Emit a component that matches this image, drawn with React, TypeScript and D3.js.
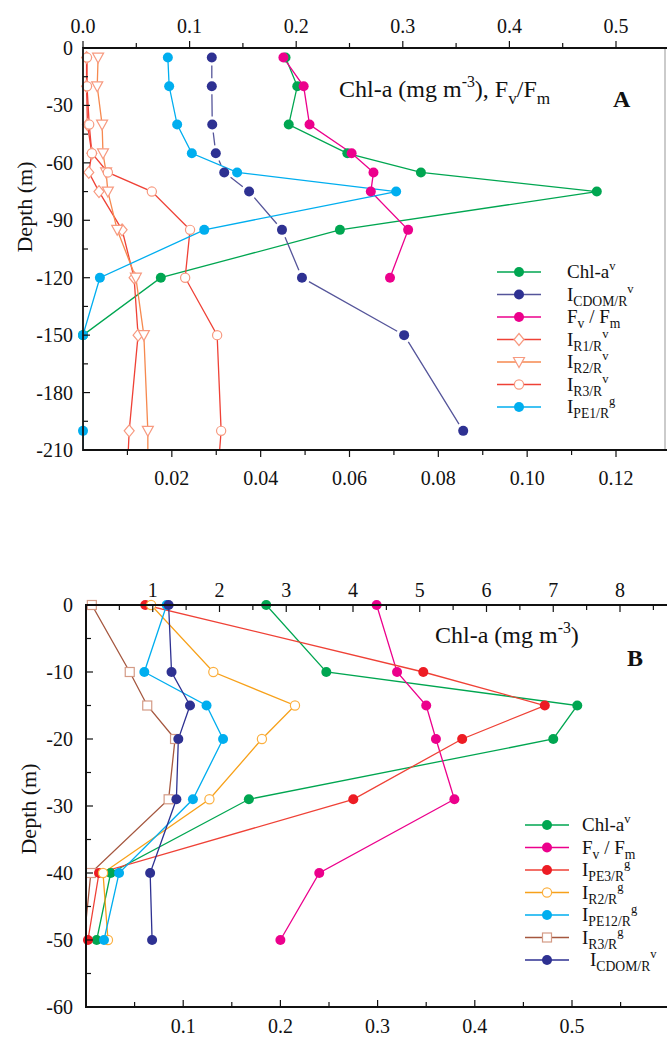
import React from 'react';
import * as d3 from 'd3';

const FONT = '"Liberation Serif", "Times New Roman", serif';

// ---------- Panel A data (depth in m, positive down) ----------
const depthsA = [5, 20, 40, 55, 65, 75, 95, 120, 150, 200, 215];
// top axis (Chl-a mg m-3, Fv/Fm)
const chlA = [0.19, 0.201, 0.193, 0.248, 0.317, 0.482, 0.241, 0.073, 0, null, null];
const fvfmA = [0.188, 0.207, 0.2125, 0.252, 0.2725, 0.27, 0.305, 0.288, null, null, null];
// bottom axis (indices)
const cdomA = [0.029, 0.029, 0.0291, 0.0299, 0.0318, 0.0374, 0.0448, 0.0493, 0.0723, 0.0856, null];
const r1A = [0.0008, 0.0008, 0.001, 0.002, 0.0013, 0.0036, 0.0088, 0.0115, 0.0124, 0.0104, 0.0101];
const r2A = [0.0034, 0.0032, 0.0043, 0.0045, 0.0052, 0.0056, 0.0077, 0.0119, 0.0137, 0.0146, 0.0146];
const r3A = [0.0009, 0.0009, 0.0014, 0.002, 0.0056, 0.0155, 0.0241, 0.023, 0.0302, 0.0311, 0.0306];
const pe1A = [0.0191, 0.0194, 0.0212, 0.0245, 0.0347, 0.0705, 0.0273, 0.0038, 0, 0, 0];

const topTicksA = [0, 0.1, 0.2, 0.3, 0.4, 0.5];
const bottomTicksA = [0.02, 0.04, 0.06, 0.08, 0.1, 0.12];
const depthTicksA = [0, 30, 60, 90, 120, 150, 180, 210];

// ---------- Panel B data ----------
const depthsB = [0, 10, 15, 20, 29, 40, 50];
// top axis (Chl-a mg m-3)
const chlB = [2.7, 3.6, 7.36, 7.0, 2.44, 0.37, 0.16];
// bottom axis
const fvfmB = [0.299, 0.32, 0.35, 0.36, 0.379, 0.24, 0.2];
const pe3B = [0.061, 0.347, 0.472, 0.387, 0.275, 0.0134, 0.002];
const r2B = [0.067, 0.131, 0.215, 0.181, 0.127, 0.0175, 0.0226];
const pe12B = [0.083, 0.06, 0.124, 0.141, 0.11, 0.034, 0.0185];
const r3B = [0.006, 0.045, 0.063, 0.0916, 0.085, 0.005, -0.002];
const cdomB = [0.085, 0.088, 0.107, 0.095, 0.093, 0.066, 0.068];

const topTicksB = [1, 2, 3, 4, 5, 6, 7, 8];
const bottomTicksB = [0.1, 0.2, 0.3, 0.4, 0.5];
const depthTicksB = [0, 10, 20, 30, 40, 50, 60];

// ---------- colours ----------
const GREEN = '#00a651';
const NAVY = '#2e3192';
const PINK = '#ec008c';
const RED = '#ef4136';
const SALMON = '#f79a80';
const ORANGE_A = '#f6894f';
const CYAN = '#00aeef';
const ORANGE_B = '#f7a11a';
const BROWN = '#a5573f';
const BROWN_LIGHT = '#d49b86';

type Part = [string, 'n' | 'sub' | 'sup'];

function Rich({ parts, x, y, size, anchor }: { parts: Part[]; x: number; y: number; size: number; anchor?: string }) {
  const off = { n: 0, sub: size * 0.28, sup: -size * 0.42 };
  let cur = 0;
  return (
    <text x={x} y={y} fontFamily={FONT} fontSize={size} fill="#111" textAnchor={anchor || 'start'}>
      {parts.map((p, i) => {
        const target = off[p[1]];
        const dy = target - cur;
        cur = target;
        const fs = p[1] === 'n' ? size : p[1] === 'sub' ? size * 0.72 : size * 0.66;
        return (
          <tspan key={i} dy={dy} fontSize={fs}>
            {p[0]}
          </tspan>
        );
      })}
    </text>
  );
}

function Marker({ kind, x, y, color }: { kind: string; x: number; y: number; color: string }) {
  if (kind === 'dot') return <circle cx={x} cy={y} r={5} fill={color} />;
  if (kind === 'circle')
    return <circle cx={x} cy={y} r={4.6} fill="#fff" stroke={color} strokeWidth={1.2} />;
  if (kind === 'diamond')
    return (
      <path d={`M${x},${y - 6}L${x + 5},${y}L${x},${y + 6}L${x - 5},${y}Z`} fill="#fff" stroke={color} strokeWidth={1.2} />
    );
  if (kind === 'triangle')
    return (
      <path d={`M${x - 5.5},${y - 4.5}L${x + 5.5},${y - 4.5}L${x},${y + 5.5}Z`} fill="#fff" stroke={color} strokeWidth={1.2} />
    );
  if (kind === 'square')
    return <rect x={x - 4.5} y={y - 4.5} width={9} height={9} fill="#fff" stroke={color} strokeWidth={1.2} />;
  return null;
}

type Series = {
  label: Part[];
  values: (number | null)[];
  axis: 'top' | 'bottom';
  line: string;
  marker: string;
  color: string;
  gapped?: boolean;
};

const seriesA: Series[] = [
  { label: [['Chl-a', 'n'], ['v', 'sup']], values: chlA, axis: 'top', line: GREEN, marker: 'dot', color: GREEN },
  { label: [['I', 'n'], ['CDOM/R', 'sub'], ['v', 'sup']], values: cdomA, axis: 'bottom', line: '#55559a', marker: 'dot', color: NAVY, gapped: true },
  { label: [['F', 'n'], ['v', 'sub'], [' / F', 'n'], ['m', 'sub']], values: fvfmA, axis: 'top', line: PINK, marker: 'dot', color: PINK },
  { label: [['I', 'n'], ['R1/R', 'sub'], ['v', 'sup']], values: r1A, axis: 'bottom', line: RED, marker: 'diamond', color: SALMON },
  { label: [['I', 'n'], ['R2/R', 'sub'], ['v', 'sup']], values: r2A, axis: 'bottom', line: ORANGE_A, marker: 'triangle', color: SALMON },
  { label: [['I', 'n'], ['R3/R', 'sub'], ['v', 'sup']], values: r3A, axis: 'bottom', line: RED, marker: 'circle', color: SALMON },
  { label: [['I', 'n'], ['PE1/R', 'sub'], ['g', 'sup']], values: pe1A, axis: 'bottom', line: CYAN, marker: 'dot', color: CYAN },
];

const seriesB: Series[] = [
  { label: [['Chl-a', 'n'], ['v', 'sup']], values: chlB, axis: 'top', line: GREEN, marker: 'dot', color: GREEN },
  { label: [['F', 'n'], ['v', 'sub'], [' / F', 'n'], ['m', 'sub']], values: fvfmB, axis: 'bottom', line: PINK, marker: 'dot', color: PINK },
  { label: [['I', 'n'], ['PE3/R', 'sub'], ['g', 'sup']], values: pe3B, axis: 'bottom', line: RED, marker: 'dot', color: '#ed1c24' },
  { label: [['I', 'n'], ['R2/R', 'sub'], ['g', 'sup']], values: r2B, axis: 'bottom', line: ORANGE_B, marker: 'circle', color: '#fbb040' },
  { label: [['I', 'n'], ['PE12/R', 'sub'], ['g', 'sup']], values: pe12B, axis: 'bottom', line: CYAN, marker: 'dot', color: CYAN },
  { label: [['I', 'n'], ['R3/R', 'sub'], ['g', 'sup']], values: r3B, axis: 'bottom', line: BROWN, marker: 'square', color: BROWN_LIGHT },
  { label: [['I', 'n'], ['CDOM/R', 'sub'], ['v', 'sup']], values: cdomB, axis: 'bottom', line: NAVY, marker: 'dot', color: NAVY },
];

function gappedPath(pts: [number, number][], g: number) {
  let d = '';
  for (let i = 0; i < pts.length - 1; i++) {
    const [x0, y0] = pts[i];
    const [x1, y1] = pts[i + 1];
    const len = Math.hypot(x1 - x0, y1 - y0);
    if (len <= 2 * g) continue;
    const ux = (x1 - x0) / len;
    const uy = (y1 - y0) / len;
    d += `M${x0 + ux * g},${y0 + uy * g}L${x1 - ux * g},${y1 - uy * g}`;
  }
  return d;
}

type PanelCfg = {
  id: string;
  depths: number[];
  series: Series[];
  drawOrder: number[];
  xTop: d3.ScaleLinear<number, number>;
  xBot: d3.ScaleLinear<number, number>;
  y: d3.ScaleLinear<number, number>;
  maxDepth: number;
};

function Lines({ cfg }: { cfg: PanelCfg }) {
  const { depths, series, xTop, xBot, y, drawOrder, maxDepth } = cfg;
  return (
    <g>
      {drawOrder.map((si) => {
        const s = series[si];
        const xs = s.axis === 'top' ? xTop : xBot;
        const pts: [number, number][] = [];
        s.values.forEach((v, i) => {
          if (v !== null) pts.push([xs(v), y(depths[i])]);
        });
        const lineGen = d3.line<[number, number]>();
        const d = s.gapped ? gappedPath(pts, 8) : lineGen(pts) || '';
        return (
          <path key={si} d={d} fill="none" stroke={s.line} strokeWidth={1.3} clipPath={`url(#clip${cfg.id})`} />
        );
      })}
      {drawOrder.map((si) => {
        const s = series[si];
        const xs = s.axis === 'top' ? xTop : xBot;
        return (
          <g key={'m' + si}>
            {s.values.map((v, i) =>
              v === null || v < 0 || depths[i] > maxDepth ? null : (
                <Marker key={i} kind={s.marker} x={xs(v)} y={y(depths[i])} color={s.color} />
              )
            )}
          </g>
        );
      })}
    </g>
  );
}

function Legend({ series, x0, x1, tx, y0, dy, cdomShift }: { series: Series[]; x0: number; x1: number; tx: number; y0: number; dy: number; cdomShift: number }) {
  return (
    <g>
      {series.map((s, i) => {
        const yy = y0 + i * dy;
        const extra = s.label[1] && s.label[1][0] === 'CDOM/R' ? cdomShift : 0;
        return (
          <g key={i}>
            <line x1={x0} x2={x1} y1={yy} y2={yy} stroke={s.line} strokeWidth={1.6} />
            <Marker kind={s.marker} x={(x0 + x1) / 2} y={yy} color={s.color} />
            <Rich parts={s.label} x={tx + extra} y={yy + 6} size={19} />
          </g>
        );
      })}
    </g>
  );
}

export default function App() {
  // Panel A scales
  const yA = d3.scaleLinear().domain([0, 210]).range([48, 450]);
  const xAt = d3.scaleLinear().domain([0, 0.5]).range([83, 616]);
  const xAb = d3.scaleLinear().domain([0, 0.12]).range([83, 616]);
  // Panel B scales
  const yB = d3.scaleLinear().domain([0, 60]).range([605, 1007]);
  const xBt = d3.scaleLinear().domain([0, 8]).range([86, 620]);
  const xBb = d3.scaleLinear().domain([0, 0.5]).range([86, 572]);

  const cfgA: PanelCfg = {
    id: 'A', depths: depthsA, series: seriesA, drawOrder: [0, 1, 2, 3, 4, 5, 6],
    xTop: xAt, xBot: xAb, y: yA, maxDepth: 210,
  };
  const cfgB: PanelCfg = {
    id: 'B', depths: depthsB, series: seriesB, drawOrder: [5, 0, 1, 2, 3, 4, 6],
    xTop: xBt, xBot: xBb, y: yB, maxDepth: 60,
  };

  const fmt2 = d3.format('.2f');
  const fmt1 = d3.format('.1f');

  // tick arrays (major + minor)
  const topMinorA = d3.range(0, 11).map((i) => i * 0.05);
  const botMinorA = d3.range(1, 13).map((i) => i * 0.01);
  const leftMinorA = d3.range(0, 15).map((i) => i * 15);
  const topMinorB = d3.range(1, 18).map((i) => i * 0.5);
  const botMinorB = d3.range(1, 12).map((i) => i * 0.05);
  const leftMinorB = d3.range(0, 13).map((i) => i * 5);

  const tickStyle = { stroke: '#111', strokeWidth: 1.2 };

  return (
    <svg
      width={667}
      height={1038}
      style={{ position: 'absolute', left: 0, top: 0, background: '#fff' }}
      fontFamily={FONT}
    >
      <defs>
        <clipPath id="clipA">
          <rect x={83} y={48} width={583} height={402} />
        </clipPath>
        <clipPath id="clipB">
          <rect x={86} y={605} width={581} height={402} />
        </clipPath>
      </defs>
      <rect x={0} y={0} width={667} height={1038} fill="#fff" />

      {/* ================= PANEL A ================= */}
      <Lines cfg={cfgA} />
      <line x1={665} x2={665} y1={48} y2={450} stroke="#a8a8a8" strokeWidth={1.2} />
      <line x1={83} x2={667} y1={48} y2={48} stroke="#111" strokeWidth={2.2} />
      <line x1={83} x2={667} y1={450} y2={450} stroke="#111" strokeWidth={1.8} />
      <line x1={83} x2={83} y1={47} y2={451} stroke="#111" strokeWidth={1.8} />
      {topMinorA.map((v, i) => (
        <line key={'ta' + i} x1={xAt(v)} x2={xAt(v)} y1={48} y2={i % 2 === 0 ? 41 : 43} {...tickStyle} />
      ))}
      {topTicksA.map((v) => (
        <text key={'tl' + v} x={xAt(v)} y={33} textAnchor="middle" fontSize={20} fill="#111">
          {v.toFixed(1)}
        </text>
      ))}
      {botMinorA.map((v, i) => (
        <line key={'ba' + i} x1={xAb(v)} x2={xAb(v)} y1={450} y2={i % 2 === 1 ? 457 : 455} {...tickStyle} />
      ))}
      {bottomTicksA.map((v) => (
        <text key={'bl' + v} x={xAb(v)} y={485} textAnchor="middle" fontSize={20} fill="#111">
          {fmt2(v)}
        </text>
      ))}
      {leftMinorA.map((v, i) => (
        <line key={'la' + i} x1={83} x2={i % 2 === 0 ? 90 : 88} y1={yA(v)} y2={yA(v)} {...tickStyle} />
      ))}
      {depthTicksA.map((v) => (
        <text key={'dl' + v} x={73} y={yA(v)} dy="0.35em" textAnchor="end" fontSize={20} fill="#111">
          {v === 0 ? '0' : `-${v}`}
        </text>
      ))}
      <text transform="translate(32,207) rotate(-90)" textAnchor="middle" fontSize={22} fill="#111">
        Depth (m)
      </text>
      <Rich
        parts={[['Chl-a (mg m', 'n'], ['-3', 'sup'], ['), F', 'n'], ['v', 'sub'], ['/F', 'n'], ['m', 'sub']]}
        x={339}
        y={97}
        size={24}
      />
      <text x={613} y={107} fontSize={24} fontWeight="bold" fill="#111">
        A
      </text>
      <Legend series={seriesA} x0={497} x1={541} tx={567} y0={272} dy={22.5} cdomShift={0} />

      {/* ================= PANEL B ================= */}
      <Lines cfg={cfgB} />
      <line x1={86} x2={667} y1={605} y2={605} stroke="#111" strokeWidth={2} />
      <line x1={86} x2={667} y1={1007} y2={1007} stroke="#111" strokeWidth={2} />
      <line x1={86} x2={86} y1={604} y2={1008} stroke="#111" strokeWidth={2} />
      {topMinorB.map((v, i) => (
        <line key={'tb' + i} x1={xBt(v)} x2={xBt(v)} y1={605} y2={i % 2 === 1 ? 612 : 610} {...tickStyle} />
      ))}
      {topTicksB.map((v) => (
        <text key={'tbl' + v} x={xBt(v)} y={597} textAnchor="middle" fontSize={20} fill="#111">
          {v}
        </text>
      ))}
      {botMinorB.map((v, i) => (
        <line key={'bb' + i} x1={xBb(v)} x2={xBb(v)} y1={1007} y2={i % 2 === 1 ? 1000 : 1002} {...tickStyle} />
      ))}
      {bottomTicksB.map((v) => (
        <text key={'bbl' + v} x={xBb(v)} y={1033} textAnchor="middle" fontSize={20} fill="#111">
          {fmt1(v)}
        </text>
      ))}
      {leftMinorB.map((v, i) => (
        <line key={'lb' + i} x1={86} x2={i % 2 === 0 ? 93 : 91} y1={yB(v)} y2={yB(v)} {...tickStyle} />
      ))}
      {depthTicksB.map((v) => (
        <text key={'dbl' + v} x={73} y={yB(v)} dy="0.35em" textAnchor="end" fontSize={20} fill="#111">
          {v === 0 ? '0' : `-${v}`}
        </text>
      ))}
      <text transform="translate(36,809) rotate(-90)" textAnchor="middle" fontSize={22} fill="#111">
        Depth (m)
      </text>
      <Rich parts={[['Chl-a (mg m', 'n'], ['-3', 'sup'], [')', 'n']]} x={435} y={643} size={24} />
      <text x={627} y={666} fontSize={24} fontWeight="bold" fill="#111">
        B
      </text>
      <Legend series={seriesB} x0={525} x1={569} tx={582} y0={825} dy={22.5} cdomShift={8} />
    </svg>
  );
}
